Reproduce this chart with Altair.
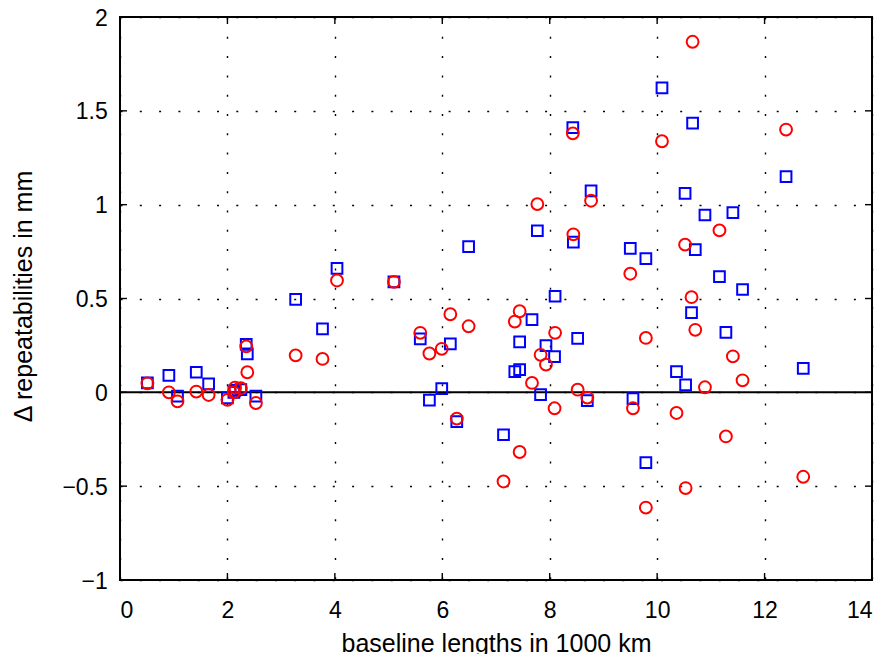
import altair as alt
import pandas as pd

# baseline lengths (1000 km)
baseline = [0.51, 0.91, 1.07, 1.42, 1.65, 2.00, 2.12, 2.14, 2.25, 2.35, 2.37, 2.53,
            3.27, 3.77, 4.04, 5.10, 5.59, 5.76, 5.99, 6.15, 6.27, 6.49, 7.14, 7.35,
            7.44, 7.44, 7.67, 7.77, 7.83, 7.93, 8.09, 8.10, 8.43, 8.44, 8.52, 8.70,
            8.77, 9.50, 9.55, 9.79, 9.79, 10.09, 10.36, 10.52, 10.53, 10.64, 10.66,
            10.71, 10.89, 11.16, 11.28, 11.41, 11.59, 12.40, 12.72]
# blue squares
blue_vals = [0.05, 0.09, -0.02, 0.107, 0.045, -0.03, 0.0, 0.01, 0.015, 0.255, 0.205, -0.02,
             0.495, 0.338, 0.66, 0.589, 0.285, -0.041, 0.02, 0.258, -0.156, 0.776, -0.226, 0.11,
             0.121, 0.269, 0.388, 0.861, -0.012, 0.249, 0.19, 0.512, 1.41, 0.80, 0.287, -0.044,
             1.074, 0.767, -0.034, 0.712, -0.375, 1.622, 0.11, 1.06, 0.04, 0.425, 1.434,
             0.761, 0.945, 0.617, 0.32, 0.957, 0.548, 1.149, 0.128]
# red circles
red_vals = [0.048, 0.0, -0.048, 0.004, -0.014, -0.04, 0.0, 0.025, 0.022, 0.245, 0.107, -0.057,
            0.197, 0.178, 0.596, 0.589, 0.317, 0.207, 0.232, 0.416, -0.14, 0.352, -0.475, 0.377,
            -0.318, 0.432, 0.05, 1.003, 0.2, 0.148, -0.085, 0.317, 1.38, 0.842, 0.014, -0.028,
            1.021, 0.632, -0.085, 0.29, -0.614, 1.338, -0.11, 0.787, -0.51, 0.507, 1.868,
            0.333, 0.027, 0.863, -0.235, 0.192, 0.064, 1.40, -0.45]

x_ticks = [0, 2, 4, 6, 8, 10, 12, 14]
y_ticks = [-1, -0.5, 0, 0.5, 1, 1.5, 2]
zero_line = [0]

W, H = 752, 563
FONT = "Liberation Sans"

blue_df = pd.DataFrame({"x": baseline, "y": blue_vals})
red_df = pd.DataFrame({"x": baseline, "y": red_vals})
xt_df = pd.DataFrame({"v": x_ticks})
yt_df = pd.DataFrame({"v": y_ticks})
z_df = pd.DataFrame({"v": zero_line})

xscale = alt.Scale(domain=[0, 14], nice=False, zero=False)
yscale = alt.Scale(domain=[-1, 2], nice=False, zero=False)

common = dict(ticks=False, tickSize=0, domain=False, labelFont=FONT, titleFont=FONT,
              labelColor="black", titleColor="black", titleFontWeight="normal",
              labelFontSize=23, titleFontSize=25, grid=True, gridColor="black",
              gridDash=[2, 17.3], gridWidth=1.4, gridOpacity=1, format="~g")
xaxis = alt.Axis(values=x_ticks, title="baseline lengths in 1000 km",
                 labelBaseline="alphabetic", labelPadding=37.5,
                 titleBaseline="alphabetic", titleY=71, **common)
yaxis = alt.Axis(values=y_ticks, title="Δ repeatabilities in mm",
                 labelPadding=12.7, labelOffset=1,
                 titleBaseline="alphabetic", titleX=-89, titleY=279, titleAngle=270,
                 **common)

blue_pts = alt.Chart(blue_df).mark_point(shape="square", filled=False, color="#0000ff",
                                          size=115, strokeWidth=2, opacity=1).encode(
    x=alt.X("x:Q", scale=xscale, axis=xaxis),
    y=alt.Y("y:Q", scale=yscale, axis=yaxis),
)
red_pts = alt.Chart(red_df).mark_point(shape="circle", filled=False, color="#ff0000",
                                        size=140, strokeWidth=2, opacity=1).encode(
    x=alt.X("x:Q", scale=xscale),
    y=alt.Y("y:Q", scale=yscale),
)
zero = alt.Chart(z_df).mark_rule(color="black", strokeWidth=2).encode(
    y=alt.Y("v:Q", scale=yscale), x=alt.value(0), x2=alt.value(W))

tick_style = dict(color="black", strokeWidth=1.4)
xt_bot = alt.Chart(xt_df).mark_rule(**tick_style).encode(
    x=alt.X("v:Q", scale=xscale), y=alt.value(H), y2=alt.value(H - 7))
xt_top = alt.Chart(xt_df).mark_rule(**tick_style).encode(
    x=alt.X("v:Q", scale=xscale), y=alt.value(0), y2=alt.value(7))
yt_left = alt.Chart(yt_df).mark_rule(**tick_style).encode(
    y=alt.Y("v:Q", scale=yscale), x=alt.value(0), x2=alt.value(7))
yt_right = alt.Chart(yt_df).mark_rule(**tick_style).encode(
    y=alt.Y("v:Q", scale=yscale), x=alt.value(W), x2=alt.value(W - 7))

box_style = dict(color="black", strokeWidth=2)
box_left = alt.Chart(z_df).mark_rule(**box_style).encode(
    x=alt.value(0), y=alt.value(-1), y2=alt.value(H + 1))
box_right = alt.Chart(z_df).mark_rule(**box_style).encode(
    x=alt.value(W), y=alt.value(-1), y2=alt.value(H + 1))
box_top = alt.Chart(z_df).mark_rule(**box_style).encode(
    y=alt.value(0), x=alt.value(-1), x2=alt.value(W + 1))
box_bot = alt.Chart(z_df).mark_rule(**box_style).encode(
    y=alt.value(H), x=alt.value(-1), x2=alt.value(W + 1))

chart = alt.layer(zero, xt_bot, xt_top, yt_left, yt_right, box_left, box_right, box_top,
                  box_bot, blue_pts, red_pts).properties(
    width=W, height=H,
    autosize=alt.AutoSizeParams(type="none"),
    padding={"left": 112, "top": 9, "right": 5, "bottom": 74},
).configure_view(stroke=None).configure(background="white")

chart.save("out.html", embed_options={"renderer": "svg", "actions": False})
